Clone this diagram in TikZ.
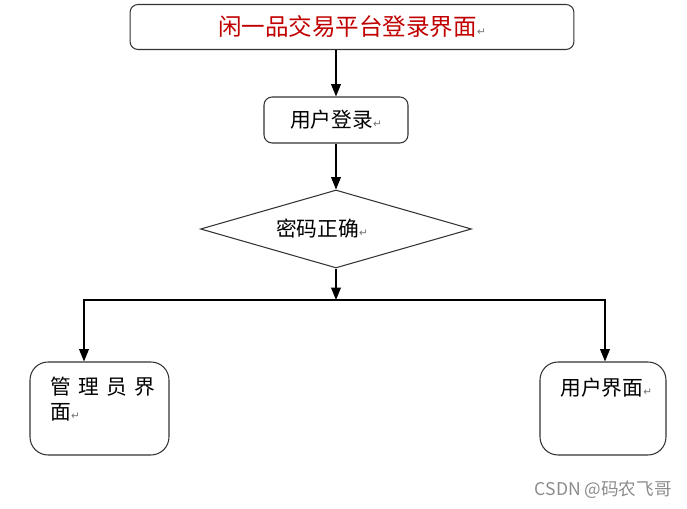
\documentclass[tikz,border=0pt]{standalone}
\usepackage{fontspec}
\setmainfont{Noto Sans CJK SC}
\newfontfamily\symfont{DejaVu Sans}
\usetikzlibrary{arrows.meta,shapes.geometric}
\definecolor{titlered}{RGB}{192,0,0}
\newcommand{\retmark}{{\symfont\color{black!55}\fontsize{6}{6}\selectfont ↵}}
\newcommand{\cjkgap}{\hspace{4.2pt}}
\begin{document}
\begin{tikzpicture}[x=0.02cm, y=-0.02cm,
		box/.style={draw=black!80, line width=0.6pt, rounded corners=0.16cm, inner sep=0pt},
		bigbox/.style={draw=black!80, line width=0.6pt, rounded corners=0.36cm, inner sep=0pt},
		decision/.style={draw=black!80, line width=0.6pt, diamond, inner sep=0pt, minimum width=5.42cm, minimum height=1.56cm},
		arrow/.style={line width=0.8pt, -{Triangle[width=5.5pt, length=7pt]}},
		txt/.style={font=\fontsize{11.8}{14}\selectfont, inner sep=0pt}]
		\useasboundingbox (0,0) rectangle (687,509);
		\node[box, minimum width=8.88cm, minimum height=0.9cm, text=titlered, font=\fontsize{13.4}{16}\selectfont]
			(title) 	at (352, 27) 	{闲一品交易平台登录界面\retmark};
		\node[box, txt, minimum width=2.88cm, minimum height=0.92cm]
			(login) 	at (336, 120) 	{用户登录\retmark};
		\node[decision] (check) 	at (336, 229) 	{};
		\node[txt] (checktext) 	at (322, 229) 	{密码正确\retmark};
		\coordinate (split) 	at (336, 300);
		\coordinate (lturn) 	at ( 84, 300);
		\coordinate (rturn) 	at (605, 300);
		\node[bigbox, minimum width=2.78cm, minimum height=1.86cm]
			(admin) 	at (99.5, 408.5) 	{};
		\node[bigbox, minimum width=2.52cm, minimum height=1.86cm]
			(user) 	at (603, 408.5) 	{};
		\node[txt, anchor=north west, align=left] (admintext) 	at (50, 377) 	{管\cjkgap 理\cjkgap 员\cjkgap 界\\面\retmark};
		\node[txt, anchor=west] (usertext) 	at (560, 388) 	{用户界面\retmark};
		\node[font=\fontsize{10}{12}\selectfont, text=black!45, anchor=east, inner sep=0pt]
			(mark) 	at (672, 490) 	{CSDN @码农飞哥};
		\draw[arrow] (title.south -| login.north) -- (login);
		\draw[arrow] (login) -- (check);
		\draw[arrow] (check.south) -- (split);
		\draw[arrow] (split) -- (lturn) -- (lturn |- admin.north);
		\draw[arrow] (split) -- (rturn) -- (rturn |- user.north);
	\end{tikzpicture}
\end{document}
